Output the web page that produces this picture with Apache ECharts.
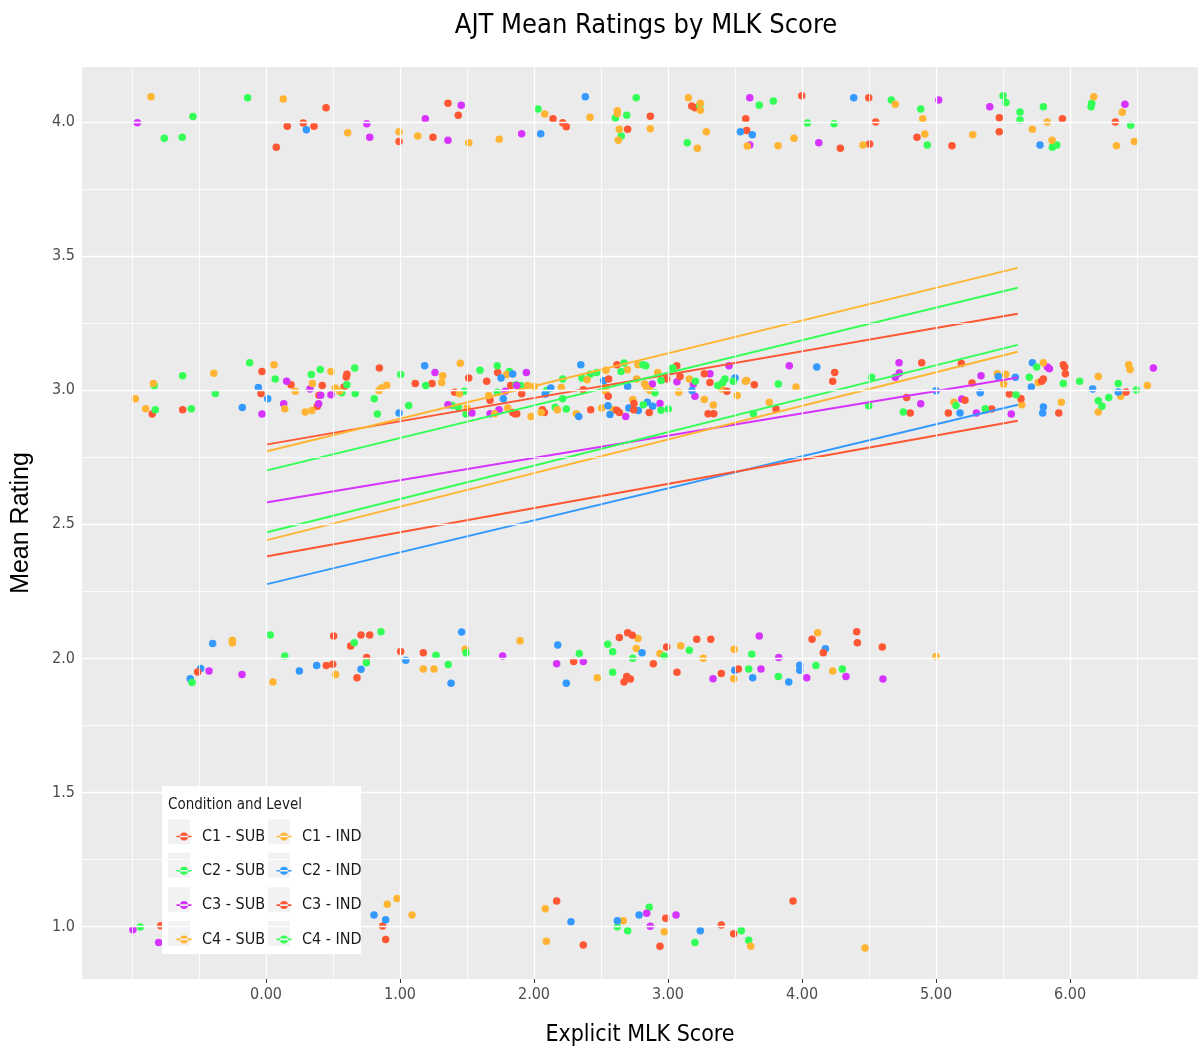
<!DOCTYPE html>
<html><head><meta charset="utf-8">
<script src="https://cdn.jsdelivr.net/npm/echarts@6/dist/echarts.min.js"></script>
<style>html,body{margin:0;padding:0;background:#fff}#chart{width:1199px;height:1052px}</style>
</head><body><div id="chart"></div>
<script>
const NARROW = "'Liberation Sans Narrow','DejaVu Sans Condensed','Arial Narrow',sans-serif";
const REG = "'Liberation Sans',Arial,sans-serif";

const chartTitle = 'AJT Mean Ratings by MLK Score';
const xTitle = 'Explicit MLK Score';
const yTitle = 'Mean Rating';
const legendTitle = 'Condition and Level';

const xTickValues = [0, 1, 2, 3, 4, 5, 6];
const yTickValues = [1.0, 1.5, 2.0, 2.5, 3.0, 3.5, 4.0];
const xGridMajor = [0, 1, 2, 3, 4, 5, 6];
const xGridMinor = [-1, -0.5, 0.5, 1.5, 2.5, 3.5, 4.5, 5.5, 6.5];
const yGridMajor = [1.0, 1.5, 2.0, 2.5, 3.0, 3.5, 4.0];
const yGridMinor = [1.25, 1.75, 2.25, 2.75, 3.25, 3.75];

const groupNames = ['C1 - SUB', 'C2 - SUB', 'C3 - SUB', 'C4 - SUB', 'C1 - IND', 'C2 - IND', 'C3 - IND', 'C4 - IND'];
const groupColors = ['#FF5733', '#33FF57', '#D633FF', '#FFB533', '#FFB533', '#3399FF', '#FF5733', '#33FF57'];

// fitted lines: x from fitX[0] to fitX[1]
const fitX = [0, 5.61];
const fitStart = [2.797, 2.700, 2.581, 2.440, 2.771, 2.276, 2.380, 2.469];
const fitEnd   = [3.285, 3.382, 3.047, 3.143, 3.456, 2.946, 2.886, 3.169];

const c1Sub = [
[0.448,4.053],[0.159,3.984],[0.278,3.996],[0.358,3.984],[0.077,3.906],[0.993,3.927],[1.246,3.943],[1.358,4.070],[1.435,4.025],[2.142,4.012],[2.214,3.997],[2.241,3.982],[2.868,4.021],[2.699,3.973],[3.177,4.060],[3.201,4.053],[3.998,4.098],[3.580,4.012],[3.587,3.968],[4.286,3.902],[4.498,4.090],[4.550,4.000],[4.505,3.918],[4.858,3.943],[5.119,3.911],[5.472,4.016],[5.472,3.964],[5.943,4.012],[6.338,4.000],
[-0.849,2.911],[-0.622,2.927],[-0.030,3.070],[-0.037,2.988],[0.187,3.020],[0.420,3.017],[0.396,2.981],[0.383,2.940],[0.582,3.012],[0.599,3.049],[0.604,3.059],[0.846,3.083],[1.114,3.025],[1.239,3.025],[1.408,2.992],[1.513,3.045],[1.729,3.066],[1.647,3.033],[1.826,3.017],[1.908,2.987],[1.672,2.962],[1.841,2.917],[1.871,2.912],[1.856,2.912],[2.062,2.927],[2.077,2.917],[2.368,3.002],[2.423,2.927],
[-0.786,1.003],[0.871,1.002],[0.893,0.952],[2.169,1.095],[2.368,0.931],[2.983,1.031],[2.940,0.927],[3.398,1.006],[3.490,0.973],[3.933,1.095]
];
const c3Ind = [
[2.557,3.042],[2.554,2.977],[2.617,2.925],[2.637,2.917],[2.619,3.095],[2.746,2.950],[2.744,2.927],[2.860,2.917],[2.990,3.042],[3.065,3.091],[3.090,3.051],[3.299,2.912],[3.341,2.912],[3.271,3.061],[3.313,3.029],[3.440,2.996],[3.644,3.020],[3.806,2.930],[4.244,3.066],[4.229,3.033],[4.893,3.102],[5.189,3.099],[5.269,3.027],[4.781,2.973],[4.808,2.915],[5.216,2.962],[5.092,2.915],[5.373,2.927],[5.416,2.930],[5.547,2.986],[5.634,2.968],[5.950,3.095],[5.960,3.086],[5.965,3.061],[5.789,3.033],[5.801,3.042],[5.916,2.915],[6.418,2.993],
[-0.510,1.949],[0.450,1.973],[0.498,1.978],[0.505,2.083],[0.632,2.046],[0.709,2.087],[0.774,2.087],[0.751,2.003],[0.679,1.928],[1.005,2.026],[1.174,2.021],[2.296,1.988],[2.637,2.078],[2.699,2.096],[2.734,2.086],[2.692,1.932],[2.719,1.923],[2.672,1.912],[2.890,1.980],[2.990,2.042],[3.067,1.948],[3.214,2.071],[3.319,2.071],[3.398,1.944],[3.525,1.960],[4.075,2.071],[4.159,2.021],[4.408,2.099],[4.413,2.058],[4.599,2.042]
];
const c1Ind = [
[-0.858,4.094],[0.129,4.086],[0.610,3.960],[0.993,3.964],[1.132,3.948],[1.513,3.923],[1.741,3.936],[2.080,4.030],[2.418,4.018],[2.622,4.042],[2.622,4.032],[2.637,3.973],[2.868,3.975],[2.629,3.932],[3.152,4.090],[3.241,4.070],[3.241,4.044],[3.286,3.964],[3.219,3.902],[3.592,3.910],[3.821,3.911],[3.940,3.939],[4.455,3.914],[4.696,4.066],[4.901,4.012],[4.916,3.955],[5.274,3.952],[5.719,3.973],[5.830,4.000],[5.866,3.932],[6.177,4.094],[6.390,4.036],[6.346,3.911],[6.480,3.927],
[-0.975,2.968],[-0.841,3.025],[-0.898,2.931],[-0.390,3.063],[0.060,3.095],[0.219,2.996],[0.140,2.931],[0.346,3.025],[0.293,2.919],[0.343,2.924],[0.485,3.070],[0.517,3.008],[0.550,2.996],[0.843,2.999],[0.863,3.008],[0.901,3.018],[1.319,3.054],[1.311,3.029],[1.450,3.100],[1.443,2.987],[1.500,2.934],[1.796,3.058],[1.953,3.017],[2.002,3.014],[1.662,2.980],[1.707,2.912],[1.804,2.934],[1.978,2.902],[2.204,3.010],[2.054,2.917],[2.174,2.927],[2.316,2.912],[2.396,3.039],
[0.905,1.083],[0.978,1.105],[1.090,1.043],[2.084,1.066],[2.092,0.945],[2.666,1.022],[2.972,0.981],[3.617,0.927],[4.470,0.920]
];
const c4Sub = [
[2.537,3.074],[2.530,3.012],[2.535,2.996],[2.505,2.934],[2.592,2.927],[2.776,3.095],[2.696,3.076],[2.766,3.042],[2.826,3.023],[2.841,3.008],[2.866,2.999],[2.737,2.965],[2.923,3.066],[3.159,3.042],[3.080,2.992],[3.271,2.965],[3.338,2.945],[3.401,3.004],[3.517,2.980],[3.577,3.033],[3.587,3.036],[3.756,2.955],[3.955,3.012],[5.457,3.061],[5.520,3.059],[5.505,3.023],[5.134,2.955],[5.640,2.946],[5.801,3.102],[5.763,3.029],[6.211,3.051],[5.935,2.955],[6.211,2.919],[6.378,2.977],[6.438,3.095],[6.448,3.077],[6.577,3.017],
[-0.251,2.068],[-0.251,2.057],[0.052,1.912],[0.520,1.940],[1.174,1.960],[1.254,1.960],[1.487,2.034],[1.896,2.066],[2.472,1.928],[2.776,2.074],[2.763,2.037],[2.940,2.018],[3.095,2.047],[3.263,2.000],[3.493,2.034],[3.490,1.924],[4.117,2.096],[4.229,1.953],[5.000,2.007]
];
const c2Sub = [
[-0.759,3.939],[-0.625,3.943],[-0.545,4.020],[-0.137,4.090],[2.030,4.048],[2.607,4.015],[2.692,4.025],[2.763,4.090],[2.651,3.948],[3.237,4.062],[3.144,3.923],[3.681,4.062],[3.786,4.078],[4.040,3.996],[4.239,3.993],[4.667,4.082],[4.886,4.048],[4.935,3.914],[5.500,4.098],[5.522,4.073],[5.627,4.037],[5.627,4.007],[5.801,4.057],[5.868,3.906],[5.901,3.914],[6.162,4.070],[6.157,4.057],[6.453,3.988],
[-0.834,3.017],[-0.826,2.927],[-0.622,3.054],[-0.557,2.931],[-0.378,2.988],[-0.122,3.102],[0.069,3.042],[0.338,3.058],[0.405,3.077],[0.565,2.990],[0.604,3.020],[0.662,3.083],[0.666,2.988],[0.808,2.968],[0.831,2.911],[1.005,3.058],[1.065,2.943],[1.192,3.017],[1.480,2.996],[1.390,2.943],[1.435,2.936],[1.493,2.911],[1.597,3.074],[1.726,3.091],[1.816,3.070],[1.866,3.020],[1.901,3.017],[1.726,2.992],[2.095,2.999],[2.214,3.042],[2.214,2.968],[2.159,2.936],[2.241,2.930],[2.358,3.045],[2.420,3.059],[2.468,3.066],
[-0.938,0.998],[2.622,0.999],[2.699,0.984],[2.860,1.072],[3.201,0.941],[3.547,0.984],[3.602,0.949]
];
const c4Ind = [
[2.672,3.101],[2.813,3.095],[2.834,3.091],[2.649,3.070],[2.903,2.990],[2.816,2.946],[2.948,2.925],[3.002,2.930],[2.948,3.036],[3.035,3.083],[3.204,3.033],[3.371,3.017],[3.408,3.029],[3.425,3.042],[3.487,3.033],[3.823,3.023],[4.498,2.942],[3.637,2.912],[4.520,3.048],[4.756,2.919],[5.149,2.943],[5.368,2.931],[5.597,2.983],[5.751,3.086],[5.696,3.048],[5.950,3.025],[6.072,3.033],[6.211,2.961],[6.239,2.940],[6.289,2.973],[6.360,3.025],[6.495,3.001],
[-0.552,1.910],[0.032,2.087],[0.140,2.009],[0.659,2.058],[0.858,2.099],[0.749,1.984],[1.269,2.012],[1.360,1.977],[1.493,2.021],[2.338,2.018],[2.550,2.053],[2.587,2.025],[2.587,1.948],[2.737,2.000],[2.972,2.009],[3.159,2.030],[3.625,2.015],[3.602,1.960],[3.823,1.932],[4.104,1.973],[4.301,1.960]
];
const c2Ind = [
[0.301,3.971],[2.050,3.956],[2.383,4.094],[3.540,3.964],[3.629,3.952],[4.386,4.090],[5.776,3.914],
[-0.177,2.935],[-0.057,3.010],[0.013,2.968],[0.993,2.915],[1.184,3.091],[1.754,3.045],[1.841,3.060],[1.771,2.968],[2.125,3.008],[2.084,2.986],[2.334,2.902],[2.349,3.095],[2.520,3.035],[2.552,2.942],[2.567,2.909],[2.699,3.014],[2.707,2.934],[2.778,2.924],[2.846,2.955],[2.886,2.940],[3.179,2.999],[3.500,3.045],[4.110,3.086],[5.000,2.998],[5.330,2.990],[5.465,3.051],[5.592,3.048],[5.179,2.915],[5.719,3.102],[5.711,3.012],[6.169,3.004],[5.801,2.937],[5.796,2.915],[6.360,2.993],
[-0.565,1.924],[-0.487,1.962],[-0.398,2.055],[0.249,1.953],[0.378,1.973],[0.709,1.959],[1.043,1.993],[1.381,1.907],[1.460,2.098],[2.177,2.050],[2.241,1.907],[2.806,2.021],[3.498,1.956],[3.632,1.928],[3.901,1.912],[3.983,1.974],[3.983,1.956],[4.174,2.036],
[0.806,1.043],[0.893,1.025],[2.276,1.018],[2.622,1.022],[2.784,1.043],[3.241,0.984]
];
const c3Sub = [
[-0.960,3.997],[0.752,3.993],[0.774,3.943],[1.189,4.012],[1.457,4.062],[1.358,3.932],[1.908,3.956],[3.610,4.090],[3.610,3.914],[4.125,3.923],[5.020,4.082],[5.401,4.057],[6.410,4.066],
[-0.030,2.911],[0.154,3.033],[0.132,2.949],[0.328,3.004],[0.408,2.981],[0.393,2.949],[0.485,2.983],[1.261,3.066],[1.358,2.946],[1.537,2.915],[1.943,3.066],[1.871,3.017],[1.786,2.996],[1.739,2.927],[1.672,2.912],[2.684,2.902],[2.883,3.023],[2.940,2.950],[3.067,3.031],[3.189,3.023],[3.201,2.977],[3.313,3.061],[3.455,3.091],[3.905,3.091],[4.724,3.102],[4.726,3.064],[4.696,3.048],[5.336,3.054],[4.886,2.949],[5.192,2.967],[5.301,2.915],[5.562,2.911],[5.831,3.086],[5.846,3.080],[6.622,3.083],
[-0.425,1.953],[-0.179,1.940],[1.766,2.009],[2.169,1.980],[2.368,1.988],[3.336,1.924],[3.681,2.083],[3.694,1.960],[3.826,2.003],[4.035,1.928],[4.328,1.932],[4.604,1.923],
[-0.993,0.988],[-0.801,0.941],[2.841,1.050],[2.868,1.001],[3.060,1.043]
];

const groupPoints = [c1Sub, c2Sub, c3Sub, c4Sub, c1Ind, c2Ind, c3Ind, c4Ind];

// legend icon: line with dot (in a 22x25 frame)
const keyIcon = 'path://M0 0L0.01 0L0 0.01Z M22 25L21.99 25L22 24.99Z M3.5 11.7H18.5V13.3H3.5Z M7 12.5A4 4 0 1 0 15 12.5A4 4 0 1 0 7 12.5Z';

const series = [];
series.push({
  type: 'line', data: [], z: 1, silent: true,
  markLine: {
    silent: true, symbol: ['none', 'none'], label: {show: false}, animation: false,
    lineStyle: {color: '#ffffff', type: 'solid', width: 0.8},
    emphasis: {disabled: true},
    data: [
      ...xGridMinor.map(v => ({xAxis: v})),
      ...yGridMinor.map(v => ({yAxis: v})),
      ...xGridMajor.map(v => ({xAxis: v, lineStyle: {width: 1.3}})),
      ...yGridMajor.map(v => ({yAxis: v, lineStyle: {width: 1.3}}))
    ]
  }
});
groupNames.forEach((name, i) => {
  series.push({
    name, type: 'scatter', data: groupPoints[i], symbolSize: 7.5, z: 2,
    itemStyle: {color: groupColors[i], opacity: 1}
  });
});
groupNames.forEach((name, i) => {
  series.push({
    name, type: 'line', data: [[fitX[0], fitStart[i]], [fitX[1], fitEnd[i]]],
    symbol: 'none', z: 3, lineStyle: {color: groupColors[i], width: 2},
    itemStyle: {color: groupColors[i]}
  });
});

const legendBase = {
  orient: 'vertical', top: 819, itemWidth: 22, itemHeight: 25, itemGap: 9.3,
  selectedMode: false, icon: keyIcon, z: 5,
  textStyle: {fontFamily: NARROW, fontSize: 16, color: '#1A1A1A', padding: [0, 0, 0, 2]}
};

const graphics = [
  {type: 'rect', shape: {x: 162, y: 786, width: 199, height: 168}, style: {fill: '#ffffff'}, z: 3, silent: true},
  {type: 'text', x: 168, y: 805, z: 6, silent: true,
   style: {text: legendTitle, font: '15px ' + NARROW, fill: '#1A1A1A', textVerticalAlign: 'middle', verticalAlign: 'middle'}}
];
[168, 268].forEach(kx => {
  [819.3, 852.7, 887.3, 921].forEach(ky => {
    graphics.push({type: 'rect', shape: {x: kx, y: ky, width: 22, height: 25}, style: {fill: '#F2F2F2'}, z: 4, silent: true});
  });
});

const chart = echarts.init(document.getElementById('chart'));
chart.setOption({
  animation: false,
  backgroundColor: '#ffffff',
  title: {
    text: chartTitle, left: 641, top: 7, textAlign: 'center',
    textStyle: {fontFamily: NARROW, fontSize: 27, fontWeight: 'normal', color: '#000000'}
  },
  grid: {left: 82, top: 67, width: 1116, height: 913, show: true, backgroundColor: '#EBEBEB', borderWidth: 0},
  xAxis: {
    type: 'value', min: -1.373, max: 6.955,
    name: xTitle, nameLocation: 'middle', nameGap: 45,
    nameTextStyle: {fontFamily: NARROW, fontSize: 23, color: '#000000'},
    axisLine: {show: false}, splitLine: {show: false},
    axisTick: {show: true, length: 4, lineStyle: {color: '#333333', width: 1}, customValues: xTickValues},
    axisLabel: {margin: 8, fontFamily: NARROW, fontSize: 16, color: '#4D4D4D', customValues: xTickValues,
      formatter: v => Number(v).toFixed(2)}
  },
  yAxis: {
    type: 'value', min: 0.8045, max: 4.205,
    name: yTitle, nameLocation: 'middle', nameGap: 48, nameRotate: 90,
    nameTextStyle: {fontFamily: REG, fontSize: 25, color: '#000000'},
    axisLine: {show: false}, splitLine: {show: false},
    axisTick: {show: true, length: 4, lineStyle: {color: '#333333', width: 1}, customValues: yTickValues},
    axisLabel: {margin: 7, fontFamily: NARROW, fontSize: 16, color: '#4D4D4D', customValues: yTickValues,
      formatter: v => Number(v).toFixed(1)}
  },
  legend: [
    Object.assign({}, legendBase, {left: 168, data: groupNames.slice(0, 4)}),
    Object.assign({}, legendBase, {left: 268, data: groupNames.slice(4, 8)})
  ],
  graphic: graphics,
  series
});
</script>
</body></html>
